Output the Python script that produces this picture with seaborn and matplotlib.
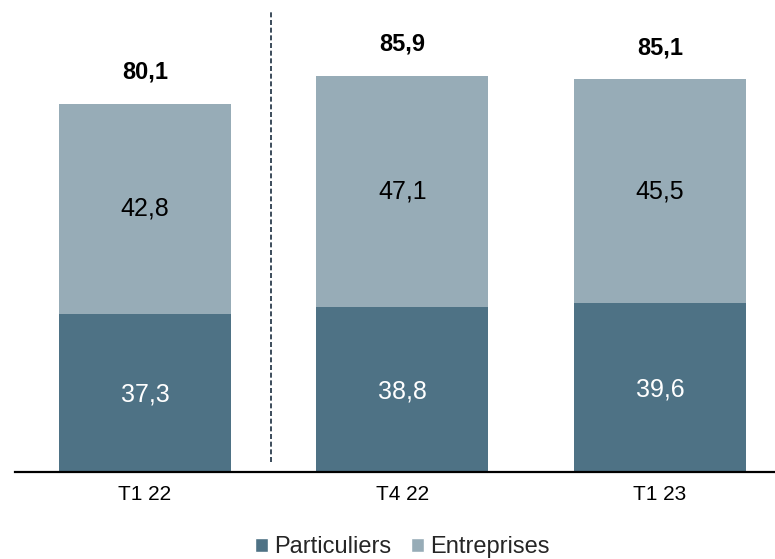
import matplotlib
matplotlib.use("Agg")
import matplotlib.pyplot as plt
import seaborn as sns
import pandas as pd
from matplotlib.patches import Patch

periods = ["T1 22", "T4 22", "T1 23"]
particuliers = [37.3, 38.8, 39.6]
entreprises = [42.8, 47.1, 45.5]
totals = [80.1, 85.9, 85.1]

dark = "#4E7285"
light = "#97ACB7"

sns.set_theme(style="white")
plt.rcParams["font.family"] = ["Liberation Sans", "DejaVu Sans"]

df = pd.DataFrame({"periode": periods, "Particuliers": particuliers,
                   "Entreprises": entreprises})
df["total"] = df["Particuliers"] + df["Entreprises"]

W, H = 775, 559
fig = plt.figure(figsize=(W / 100, H / 100), dpi=100)
ax = fig.add_axes([15 / W, (H - 472) / H, 760 / W, 462 / H])

# stacked bars: full height in light, lower segment in dark on top
sns.barplot(data=df, x="periode", y="total", color=light, width=0.668,
            saturation=1, ax=ax, linewidth=0)
sns.barplot(data=df, x="periode", y="Particuliers", color=dark, width=0.668,
            saturation=1, ax=ax, linewidth=0)

fmt = lambda v: f"{v:.1f}".replace(".", ",")
for i in range(len(periods)):
    p, e, t = particuliers[i], entreprises[i], totals[i]
    ax.text(i, p / 2 + 2.2, fmt(p), ha="center", va="center", color="white", fontsize=18)
    ax.text(i, p + e / 2, fmt(e), ha="center", va="center", color="black", fontsize=18)
    ax.text(i, t + 6.5, fmt(t), ha="center", va="center", color="black",
            fontsize=17, fontweight="bold")

ax.axvline(0.49, ymin=0.022, ymax=1.0, color="#1B2E40", linestyle=(0, (3, 1.6)),
           linewidth=1.2)

ax.set_xlim(-0.505, 2.447)
ax.set_ylim(5.1, 99.25)
ax.set_xlabel("")
ax.set_ylabel("")
ax.set_yticks([])
ax.tick_params(axis="x", length=0, labelsize=15, pad=9, colors="black")
for s in ["top", "right", "left"]:
    ax.spines[s].set_visible(False)
ax.spines["bottom"].set_color("black")
ax.spines["bottom"].set_linewidth(1.6)

handles = [Patch(facecolor=dark, label="Particuliers"),
           Patch(facecolor=light, label="Entreprises")]
fig.legend(handles=handles, loc="center", bbox_to_anchor=(402 / W, (H - 547) / H),
           ncol=2, frameon=False, fontsize=17, handlelength=0.55, handleheight=0.55,
           handletextpad=0.25, columnspacing=0.85, borderpad=0)

fig.savefig("out.png", dpi=100)
